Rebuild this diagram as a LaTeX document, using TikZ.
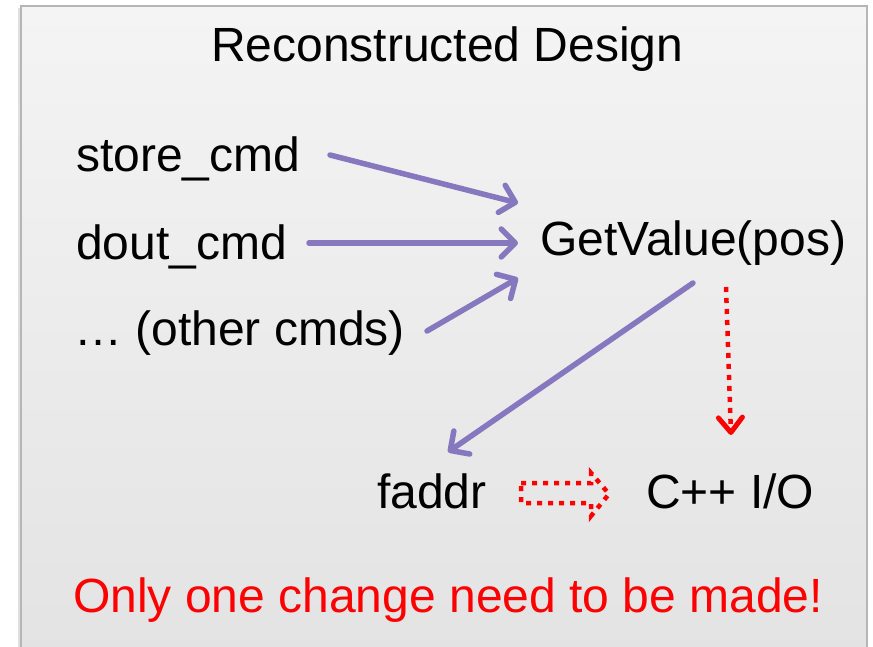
\documentclass[tikz,border=0pt]{standalone}
\usepackage{fontspec}
\setmainfont{Liberation Sans}
\usetikzlibrary{arrows.meta}
\definecolor{boxtop}{HTML}{F4F4F4}
\definecolor{boxbot}{HTML}{E3E3E3}
\definecolor{boxline}{HTML}{B6B6B6}
\definecolor{arrowpurple}{RGB}{134,120,190}
\definecolor{pptred}{RGB}{255,0,0}
\tikzset{
  txt/.style={anchor=base west, inner sep=0pt, font=\fontsize{48}{56}\selectfont},
  redtxt/.style={txt, text=pptred},
  parrow/.style={draw=arrowpurple, line width=5.5pt, line cap=round,
    -{Straight Barb[length=14pt,width=28pt,line cap=round,line join=round]}},
  rarrow/.style={draw=pptred, line width=4.5pt, dash pattern=on 5pt off 6pt,
    -{Straight Barb[length=15pt,width=24pt,line width=5pt,line cap=round,line join=round,sep=0pt]}},
  blockarrow/.style={draw=pptred, line width=4.5pt, dash pattern=on 5pt off 6pt}
}
\begin{document}
\begin{tikzpicture}[x=1pt,y=-1pt]
\useasboundingbox (0,0) rectangle (873,647);
\fill[white] (0,0) rectangle (873,647);
% soft shadow
\fill[gray!25] (18,8) rectangle (23,660);
\shade[top color=boxtop, bottom color=boxbot] (21,6) rectangle (867,660);
\draw[boxline, line width=2pt] (21,660) -- (21,6) -- (867,6) -- (867,660);

\node[txt] (title) at (211,62) {Reconstructed Design};
\node[txt] (store) at (76,172) {store\_cmd};
\node[txt] (dout) at (76,259) {dout\_cmd};
\node[txt] (other) at (74,345) {… (other cmds)};
\node[txt] (getv) at (540,256) {GetValue(pos)};
\node[txt] (faddr) at (377,508) {faddr};
\node[txt] (cpp) at (646,508) {C++ I/O};
\node[redtxt] (note) at (73,612) {Only one change need to be made!};

\coordinate (s1) at (330,155);
\coordinate (s2) at (518,203);
\coordinate (d1) at (309,243);
\coordinate (d2) at (518,243);
\coordinate (o1) at (427,331);
\coordinate (o2) at (518,278);
\coordinate (g1) at (693,283);
\coordinate (g2) at (448,452);
\coordinate (r1) at (726,287);
\coordinate (r2) at (731,435);

\draw[parrow] (s1) -- (s2);
\draw[parrow] (d1) -- (d2);
\draw[parrow] (o1) -- (o2);
\draw[parrow] (g1) -- (g2);
\draw[rarrow] (r1) -- (r2);

\draw[blockarrow] (521,483) -- (591,483) -- (591,473) -- (609,494)
  -- (591,516) -- (591,503) -- (521,503) -- cycle;
\end{tikzpicture}
\end{document}
